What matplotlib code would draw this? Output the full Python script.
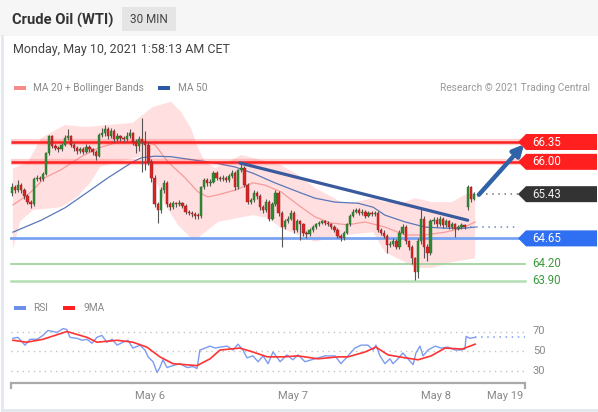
import numpy as np
import matplotlib
matplotlib.use("Agg")
import matplotlib.pyplot as plt
from matplotlib.patches import Rectangle, Polygon

plt.rcParams['font.family'] = ['Roboto', 'DejaVu Sans']

W, H = 598, 412

# ---------------- data ----------------
closes = [65.55, 65.50, 65.60, 65.50, 65.40, 65.30, 65.25, 65.70, 65.72, 65.70,
          65.78, 66.15, 66.45, 66.28, 66.25, 66.22, 66.30, 66.42, 66.45, 66.30,
          66.25, 66.20, 66.22, 66.18, 66.27, 66.22, 66.18, 66.10, 66.47, 66.50,
          66.58, 66.45, 66.55, 66.40, 66.45, 66.42, 66.40, 66.45, 66.50, 66.35,
          66.28, 66.40, 66.35, 66.30, 66.00, 65.72, 65.25, 65.15, 65.50, 65.63,
          65.25, 65.20, 65.27, 65.25, 65.28, 65.22, 65.12, 65.10, 65.08, 65.05,
          65.04, 65.55, 65.68, 65.62, 65.65, 65.80, 65.72, 65.70, 65.72, 65.68,
          65.75, 65.80, 65.55, 65.85, 65.90, 65.60, 65.30, 65.32, 65.45, 65.40,
          65.20, 65.15, 65.30, 65.00, 65.25, 65.45, 65.10, 64.85, 64.95, 65.00,
          65.10, 64.80, 64.95, 64.90, 64.75, 64.72, 64.80, 64.85, 64.90, 64.93,
          64.95, 64.92, 64.90, 64.85, 64.80, 64.70, 64.65, 64.75, 64.90, 65.05,
          65.12, 65.15, 65.10, 65.12, 65.05, 65.10, 65.08, 65.10, 64.80, 64.75,
          64.70, 64.53, 64.55, 64.60, 64.50, 64.75, 64.85, 64.60, 64.50, 64.30,
          64.05, 64.60, 65.00, 64.50, 64.40, 64.95, 64.98, 64.90, 65.00, 64.88,
          64.95, 64.85, 64.90, 64.82, 64.85, 64.88, 64.85, 65.55, 65.35, 65.43]
first_open = 65.45
gap_index = 147
gap_open = 65.20
highs = [65.62, 65.60, 65.68, 65.63, 65.53, 65.43, 65.33, 65.73, 65.76, 65.75,
         65.82, 66.18, 66.47, 66.47, 66.31, 66.28, 66.34, 66.47, 66.58, 66.48,
         66.33, 66.28, 66.27, 66.26, 66.31, 66.30, 66.25, 66.21, 66.50, 66.60,
         66.65, 66.61, 66.60, 66.58, 66.50, 66.48, 66.46, 66.52, 66.58, 66.53,
         66.40, 66.45, 66.77, 66.55, 66.35, 66.05, 65.76, 65.30, 65.55, 65.68,
         65.66, 65.30, 65.31, 65.30, 65.32, 65.30, 65.25, 65.15, 65.13, 65.11,
         65.09, 65.58, 65.72, 65.71, 65.69, 65.83, 65.83, 65.75, 65.76, 65.75,
         65.79, 65.85, 65.83, 65.88, 65.96, 65.93, 65.63, 65.36, 65.50, 65.48,
         65.43, 65.24, 65.34, 65.33, 65.29, 65.50, 65.48, 65.13, 64.99, 65.04,
         65.15, 65.13, 64.99, 64.98, 64.93, 64.78, 64.84, 64.88, 64.93, 64.96,
         64.98, 64.97, 64.95, 64.93, 64.88, 64.83, 64.73, 64.78, 64.93, 65.08,
         65.16, 65.19, 65.18, 65.16, 65.15, 65.14, 65.13, 65.14, 65.13, 64.84,
         64.79, 64.73, 64.60, 64.65, 64.64, 64.80, 64.90, 64.88, 64.63, 64.53,
         64.33, 64.65, 65.17, 65.05, 64.55, 65.00, 65.03, 65.02, 65.05, 65.03,
         64.99, 64.98, 64.94, 64.93, 64.89, 64.92, 64.91, 65.60, 65.58, 65.47]
lows = [65.40, 65.45, 65.47, 65.45, 65.35, 65.26, 65.18, 65.22, 65.67, 65.66,
        65.67, 65.76, 66.12, 66.25, 66.21, 66.18, 66.20, 66.28, 66.39, 66.26,
        66.20, 66.14, 66.16, 66.13, 66.15, 66.18, 66.12, 66.03, 66.08, 66.43,
        66.46, 66.40, 66.42, 66.35, 66.36, 66.37, 66.35, 66.37, 66.42, 66.30,
        66.15, 66.20, 65.82, 65.85, 65.95, 65.65, 65.20, 64.93, 65.10, 65.45,
        65.20, 65.15, 65.17, 65.21, 65.22, 65.18, 65.08, 65.06, 65.03, 65.00,
        64.99, 65.01, 65.52, 65.58, 65.58, 65.62, 65.68, 65.66, 65.67, 65.64,
        65.65, 65.72, 65.50, 65.52, 65.82, 65.55, 65.25, 65.26, 65.29, 65.35,
        65.15, 65.10, 65.12, 64.95, 64.97, 65.22, 65.05, 64.50, 64.82, 64.92,
        64.97, 64.75, 64.77, 64.62, 64.70, 64.66, 64.69, 64.77, 64.82, 64.87,
        64.90, 64.89, 64.87, 64.82, 64.77, 64.66, 64.60, 64.62, 64.72, 64.87,
        65.02, 65.09, 65.06, 65.07, 65.01, 65.02, 65.04, 65.05, 64.76, 64.71,
        64.66, 64.40, 64.49, 64.51, 64.46, 64.47, 64.72, 64.55, 64.45, 64.20,
        63.92, 63.95, 64.55, 64.30, 64.25, 64.36, 64.90, 64.85, 64.86, 64.84,
        64.85, 64.81, 64.82, 64.67, 64.79, 64.82, 64.81, 65.15, 65.30, 65.32]

bb_up_t = [0.3, 5.2, 9.4, 17.1, 22.3, 25.5, 31, 39, 45.5, 51.3, 54.5, 57.7, 60, 62.3,
           65.5, 69.7, 73.9, 76.1, 82.6, 86.8, 92.3, 97.7, 101.9, 106.1, 110.6,
           116.5, 120.3, 126.8, 130, 135.5, 141.9, 146.1, 149.4]
bb_up_v = [65.88, 66.00, 66.42, 66.65, 66.62, 66.62, 66.65, 66.69, 66.97, 67.06, 66.88,
           66.60, 66.24, 66.00, 65.89, 66.00, 66.12, 66.09, 66.00, 65.94, 65.77,
           65.54, 65.42, 65.29, 65.29, 65.36, 65.29, 65.29, 65.36, 65.29, 65.29,
           65.42, 65.47]
bb_lo_t = [0.3, 2.6, 6.8, 15.8, 21, 25.2, 28.4, 33.9, 41.3, 43.9, 46.1, 49.4, 53.5,
           58.4, 60, 62.3, 66.5, 72.9, 77.7, 82.6, 86.8, 92.3, 97.7, 102.9, 108.4,
           116.5, 120.3, 126.8, 130, 135.5, 141.9, 149.4]
bb_lo_v = [64.45, 64.95, 65.15, 65.20, 65.38, 65.63, 65.91, 66.00, 66.09, 66.08, 65.72,
           65.24, 64.89, 64.62, 64.66, 64.76, 64.94, 65.01, 65.06, 65.01, 64.83,
           64.71, 64.59, 64.66, 64.71, 64.76, 64.41, 64.23, 64.13, 64.13, 64.23, 64.30]
ma20_t = [0.3, 5.2, 10.6, 15.8, 22.3, 27.7, 34.2, 39, 41.6, 46.1, 50.3, 55.8, 60, 63.2,
          66.5, 71.9, 77.7, 81.6, 86.8, 92.3, 97.7, 102.9, 108.4, 113.9, 120.3,
          126.8, 133.2, 139.7, 145.2, 149.4]
ma20_v = [65.24, 65.42, 65.72, 65.86, 66.09, 66.24, 66.35, 66.35, 66.39, 66.30, 66.00,
          65.72, 65.47, 65.38, 65.42, 65.50, 65.63, 65.59, 65.47, 65.24, 65.03,
          64.92, 64.89, 64.94, 64.85, 64.71, 64.71, 64.76, 64.83, 64.94]
ma50_t = [0.3, 9.4, 17.1, 24.5, 31, 39, 41.6, 46.1, 51.3, 59, 65.5, 71.9, 77.7, 84.8,
          92.3, 97.7, 104.2, 111.6, 116.5, 120.3, 126.8, 133.2, 139.7, 146.1, 149.4]
ma50_v = [64.76, 64.97, 65.19, 65.47, 65.72, 66.00, 66.07, 66.10, 66.09, 66.03, 65.98,
          65.91, 65.80, 65.63, 65.47, 65.36, 65.29, 65.27, 65.20, 65.06, 64.94,
          64.85, 64.83, 64.83, 64.85]

rsi_t = [0.3, 1.9, 4.2, 5.8, 8.1, 10, 11.6, 13.2, 14.5, 16.5, 17.7, 18.7, 21, 22.6,
         24.2, 25.8, 27.4, 29, 30.6, 32.3, 33.9, 35.8, 37.4, 39, 41.3, 42.9, 43.9,
         45.5, 46.8, 47.7, 48.7, 50, 51.9, 54.2, 56.5, 58.4, 59.7, 60.6, 62.3, 63.9,
         65.5, 67.1, 69.4, 71.3, 72.9, 74.5, 75.8, 77.7, 79.4, 81, 82.6, 84.2, 86.5,
         88.7, 90.6, 92.3, 94.5, 97.7, 101, 104.2, 106.1, 108.4, 110.6, 112.6, 114.8,
         116.5, 117.4, 118.7, 120.3, 121.9, 122.9, 124.5, 126.1, 127.7, 129.4, 130.3,
         131.6, 132.6, 134.2, 136.5, 138.4, 140.6, 142.9, 144.8, 146.1, 146.5, 147.7,
         149.4]
rsi_v = [63, 64, 56, 62, 62, 66, 71, 70, 69, 73, 72, 64, 63, 61, 62, 58, 64, 66, 59, 62,
         56, 59, 61, 53, 56, 51, 44, 39, 28, 33, 41, 33, 35, 37, 33, 34, 32, 51, 53, 55,
         53, 54, 55, 51, 57, 51, 43, 45, 39, 45, 37, 49, 39, 46, 41, 46, 39, 42, 45, 45,
         37, 45, 53, 56, 56, 51, 56, 45, 37, 42, 37, 42, 48, 42, 36, 48, 55, 45, 51, 55,
         53, 54, 51, 51, 52, 65, 63, 64]
rsi_ma_t = [0.3, 4.8, 10, 17.7, 24.2, 27.4, 33.9, 39, 43.5, 47.7, 51.9, 59.7, 63.9,
            67.1, 73.5, 77.7, 82.3, 87.4, 92.3, 98.7, 105.2, 108.4, 113.9, 117.4,
            121.3, 126.8, 131, 135.2, 139.7, 145.2, 149.4]
rsi_ma_v = [61, 59, 62, 70, 64, 59, 61, 59, 54, 44, 37, 35, 42, 51, 53, 49, 44, 44, 45,
            42, 44, 44, 49, 54, 46, 43, 41, 45, 53, 52, 57]
rsi_last = 64
rsi_levels = [70, 50, 30]

resistance_levels = [66.35, 66.00]
last_price = 65.43
support_level = 64.65
green_levels = [64.20, 63.90]
ma50_last = 64.85
trend_t = [73.5, 147.0]
trend_v = [65.98, 64.97]
arrow_start = (150.6, 65.42)
arrow_end = (165.2, 66.31)
tick_pos = [44.5, 90.6, 136.8, 159.0]
tick_labels = ["May 6", "May 7", "May 8", "May 19"]

# ---------------- layout helpers ----------------
BAR_PX = 3.1
X0_PX = 12


def px2x(px):
    return (px - X0_PX) / BAR_PX


def py2p(py):
    return 66.35 - (py - 142) / 56.7


def py2r(py):
    return 50 - (py - 351) / 0.975


def fx(px):
    return px / W


def fy(py):
    return 1 - py / H


fig = plt.figure(figsize=(W / 100, H / 100), dpi=100)
fig.patch.set_facecolor('white')

# header band and card border
fig.patches.append(Rectangle((0, fy(36)), 1, 36 / H, transform=fig.transFigure,
                             facecolor='#f6f6f6', edgecolor='none', zorder=0))
fig.add_artist(plt.Line2D([fx(2), fx(2)], [fy(36), fy(410)], transform=fig.transFigure,
                          color='#e2e8ee', lw=2))
fig.add_artist(plt.Line2D([fx(2), fx(597)], [fy(410), fy(410)], transform=fig.transFigure,
                          color='#e2e8ee', lw=2))

fig.text(fx(12), fy(20), "Crude Oil (WTI)", fontsize=10.6, fontweight='bold',
         color='#333333', va='center', ha='left')
fig.patches.append(Rectangle((fx(122), fy(31)), 54 / W, 24 / H, transform=fig.transFigure,
                             facecolor='#e5e5e5', edgecolor='none', zorder=1))
fig.text(fx(149), fy(19.5), "30 MIN", fontsize=8.5, color='#444444',
         va='center', ha='center', zorder=2)
fig.text(fx(13), fy(50), "Monday, May 10, 2021 1:58:13 AM CET", fontsize=9,
         color='#444444', va='center', ha='left')

# main legend
fig.patches.append(Rectangle((fx(14), fy(90)), 12 / W, 4 / H, transform=fig.transFigure,
                             facecolor='#f78b8b', edgecolor='none'))
fig.text(fx(33), fy(88), "MA 20 + Bollinger Bands", fontsize=7.3, color='#888888',
         va='center', ha='left')
fig.patches.append(Rectangle((fx(158), fy(90)), 12 / W, 4 / H, transform=fig.transFigure,
                             facecolor='#2c5aa0', edgecolor='none'))
fig.text(fx(178), fy(88), "MA 50", fontsize=7.3, color='#888888', va='center', ha='left')
fig.text(fx(590), fy(88), "Research \u00a9 2021 Trading Central", fontsize=7.3,
         color='#999999', va='center', ha='right')

# RSI legend
fig.patches.append(Rectangle((fx(14), fy(310)), 12 / W, 4 / H, transform=fig.transFigure,
                             facecolor='#6d8fe8', edgecolor='none'))
fig.text(fx(33), fy(308), "RSI", fontsize=7.3, color='#888888', va='center', ha='left')
fig.patches.append(Rectangle((fx(63), fy(310)), 12 / W, 4 / H, transform=fig.transFigure,
                             facecolor='#ff2020', edgecolor='none'))
fig.text(fx(83), fy(308), "9MA", fontsize=7.3, color='#888888', va='center', ha='left')

# ---------------- main price panel ----------------
ax = fig.add_axes([0, fy(290), 1, 195 / H])
ax.set_facecolor('none')
ax.set_xlim(px2x(0), px2x(W))
ax.set_ylim(py2p(290), py2p(95))
ax.axis('off')

# Bollinger band
band = np.vstack([np.column_stack([bb_up_t, bb_up_v]),
                  np.column_stack([bb_lo_t, bb_lo_v])[::-1]])
ax.add_patch(Polygon(band, closed=True, facecolor='#ffdfdf', edgecolor='none', zorder=1))
ax.plot(ma20_t, ma20_v, color='#f59c9c', lw=0.9, zorder=2)
ax.plot(ma50_t, ma50_v, color='#5a78b8', lw=0.9, zorder=2)

# horizontal levels
xa, xb = px2x(11), px2x(525)
for lv in resistance_levels:
    ax.plot([xa, xb], [lv, lv], color='#ff2d2d', lw=4.5, alpha=0.22, zorder=3,
            solid_capstyle='butt')
    ax.plot([xa, xb], [lv, lv], color='#ff2020', lw=1.8, zorder=3, solid_capstyle='butt')
ax.plot([xa, xb], [support_level] * 2, color='#7aa3f2', lw=2.0, zorder=3)
ax.plot([xa, xb], [green_levels[0]] * 2, color='#97d197', lw=1.2, zorder=3)
ax.plot([xa, xb], [green_levels[1]] * 2, color='#b3deb3', lw=1.8, zorder=3)

# candles
n = len(closes)
idx = np.arange(n)
opens = [first_open] + closes[:-1]
opens[gap_index] = gap_open
o = np.array(opens)
c = np.array(closes)
up = c >= o
ax.vlines(idx, lows, highs, color='#555555', lw=0.8, zorder=4)
body = np.where(np.abs(c - o) < 0.012, 0.012, c - o)
ax.bar(idx[up], body[up], bottom=o[up], width=0.75, color='#2f8a35',
       edgecolor='#2a6e2a', lw=0.3, zorder=5)
ax.bar(idx[~up], body[~up], bottom=o[~up], width=0.75, color='#d42626',
       edgecolor='#a01c1c', lw=0.3, zorder=5)

# trend line and arrow
ax.plot(trend_t, trend_v, color='#3a5a9e', lw=2.3, zorder=6, solid_capstyle='round')
ax.annotate('', xy=arrow_end, xytext=arrow_start,
            arrowprops=dict(arrowstyle='-|>', color='#2f62a6', lw=3.2,
                            mutation_scale=16, shrinkA=0, shrinkB=0), zorder=7)

# dotted leaders
ax.plot([px2x(480), px2x(519)], [last_price] * 2, color='#777777', lw=1.1,
        ls=(0, (1, 3)), zorder=3)
ax.plot([px2x(470), px2x(519)], [ma50_last] * 2, color='#6a86c8', lw=1.1,
        ls=(0, (1, 3)), zorder=3)

# price tags
half = 8 / 56.7


def tag(level, color, text_color='white'):
    tip = px2x(518)
    left = px2x(526)
    right = px2x(597)
    pts = [(tip, level), (left, level + half), (right, level + half),
           (right, level - half), (left, level - half)]
    ax.add_patch(Polygon(pts, closed=True, facecolor=color, edgecolor='none',
                         zorder=8, clip_on=False))
    ax.text(px2x(532), level, f"{level:.2f}", color=text_color, fontsize=8.3,
            va='center', ha='left', zorder=9, clip_on=False)


tag(resistance_levels[0], '#ff1f1f')
tag(resistance_levels[1], '#ff1f1f')
tag(last_price, '#333333', '#eeeeee')
tag(support_level, '#2f6ff2')
for lv in green_levels:
    ax.text(px2x(532), lv, f"{lv:.2f}", color='#3a9a3a', fontsize=8.3,
            va='center', ha='left', zorder=9)

# ---------------- RSI panel ----------------
ax2 = fig.add_axes([0, fy(383), 1, 63 / H])
ax2.set_facecolor('none')
ax2.set_xlim(px2x(0), px2x(W))
ax2.set_ylim(py2r(383), py2r(320))
for s in ax2.spines.values():
    s.set_visible(False)
ax2.set_yticks([])
for lv in rsi_levels:
    ax2.plot([xa, xb], [lv, lv], color='#c4c4c4', lw=1.0, ls=(0, (1, 3)), zorder=1)
    ax2.text(px2x(533), lv, str(lv), color='#888888', fontsize=8, va='center', ha='left')
ax2.plot(rsi_t, rsi_v, color='#7b9cf0', lw=1.0, zorder=2)
ax2.plot([rsi_t[-1], xb], [rsi_last, rsi_last], color='#7b9cf0', lw=1.1,
         ls=(0, (1, 3)), zorder=2)
ax2.plot(rsi_ma_t, rsi_ma_v, color='#ff3333', lw=1.2, zorder=3)

# x axis line with end ticks
yb = py2r(383)
ax2.plot([xa, xb], [yb, yb], color='#aaaaaa', lw=1.6, clip_on=False, zorder=4,
         solid_capstyle='butt')
for xe in (xa, xb):
    ax2.plot([xe, xe], [yb, py2r(388)], color='#aaaaaa', lw=1.6, clip_on=False, zorder=4)
ax2.set_xticks(tick_pos)
ax2.set_xticklabels(tick_labels)
ax2.tick_params(axis='x', length=0, pad=6, labelsize=8, labelcolor='#888888')

fig.savefig("out.png", dpi=100)
